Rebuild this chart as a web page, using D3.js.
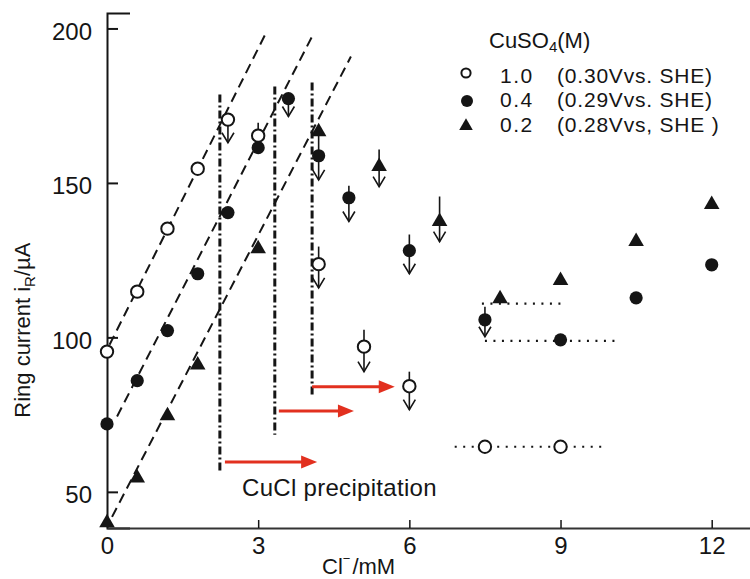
<!DOCTYPE html>
<html>
<head>
<meta charset="utf-8">
<script src="https://cdn.jsdelivr.net/npm/d3@7"></script>
<style>
  html, body { margin: 0; padding: 0; background: #fff; }
  svg { display: block; }
</style>
</head>
<body>
<svg id="chart" width="750" height="579"></svg>
<script>
// Ring current vs chloride concentration for three CuSO4 concentrations
const concLabels = ["1.0", "0.4", "0.2"];
const potentialLabels = ["(0.30Vvs. SHE)", "(0.29Vvs. SHE)", "(0.28Vvs, SHE )"];
const xTicks = [0, 3, 6, 9, 12];
const yTicks = [50, 100, 150, 200];

// 1.0 M CuSO4 (open circles)
const cl10 = [0, 0.6, 1.2, 1.8, 2.4, 3.0, 4.2, 5.1, 6.0, 7.5, 9.0];
const ir10 = [95.4, 114.8, 135.2, 154.6, 170.5, 165.3, 123.7, 97.0, 84.2, 64.6, 64.6];
// 0.4 M CuSO4 (filled circles)
const cl04 = [0, 0.6, 1.2, 1.8, 2.4, 3.0, 3.6, 4.2, 4.8, 6.0, 7.5, 9.0, 10.5, 12];
const ir04 = [72.0, 86.0, 102.2, 120.6, 140.4, 161.4, 177.3, 158.8, 145.2, 128.1, 105.7, 99.2, 112.8, 123.5];
// 0.2 M CuSO4 (triangles)
const cl02 = [0, 0.6, 1.2, 1.8, 3.0, 4.2, 5.4, 6.6, 7.8, 9.0, 10.5, 12];
const ir02 = [40.0, 54.5, 74.6, 91.1, 128.7, 166.6, 155.3, 137.5, 112.5, 118.4, 131.0, 143.0];

// Linear fits for the low-chloride region (start and end of each dashed line)
const fitClStart = [0.05, 0.2, 0.1];
const fitIrStart = [97.6, 74.4, 41.9];
const fitClEnd = [3.16, 4.11, 4.84];
const fitIrEnd = [198.7, 198.7, 190.9];

// Current drift during measurement: vertical bar from top value to end value
const driftCl = [2.4, 3.0, 3.6, 4.2, 4.8, 5.4, 6.0, 6.6, 4.2, 5.1, 6.0, 7.5];
const driftTop = [170.5, 169.5, 177.3, 166.6, 149.1, 160.8, 133.3, 145.6, 129.4, 102.5, 88.9, 109.9];
const driftEnd = [163.0, 165.3, 171.5, 151.0, 137.5, 148.8, 120.6, 131.0, 116.0, 88.9, 76.6, 100.2];
const driftDown = [true, false, true, true, true, true, true, true, true, true, true, true];

// Onset of CuCl precipitation (dash-dot verticals) and shift arrows
const onsetCl = [2.24, 3.33, 4.07];
const onsetTop = [178.6, 181.2, 182.5];
const onsetBottom = [56.5, 68.5, 81.4];
const shiftFrom = [2.34, 3.41, 4.07];
const shiftTo = [4.17, 4.90, 5.71];
const shiftIr = [59.7, 76.2, 84.0];

// Plateau levels (dotted horizontals)
const plateauIr = [110.9, 98.9, 64.6];
const plateauFrom = [7.44, 7.50, 6.90];
const plateauTo = [9.11, 10.08, 9.84];

const svg = d3.select("#chart");
const ink = "#151515";
const red = "#e2301f";
const sans = "'Liberation Sans', Arial, Helvetica, sans-serif";

const x = d3.scaleLinear().domain([0, 12.76]).range([107, 750]);
const y = d3.scaleLinear().domain([38.3, 205]).range([528, 13]);

// Axes
const yAxis = d3.axisLeft(y).tickValues(yTicks).tickSizeInner(-11).tickSizeOuter(-23).tickPadding(15);
const gy = svg.append("g").attr("transform", `translate(${x(0)},0)`).call(yAxis);
gy.select(".domain").attr("stroke", ink).attr("stroke-width", 2);
gy.selectAll(".tick line").attr("stroke", ink).attr("stroke-width", 2);
gy.selectAll(".tick text").attr("font-family", sans).attr("font-size", 24).attr("fill", ink).attr("dy", "0.45em");

const xAxis = d3.axisBottom(x).tickValues(xTicks).tickSizeInner(-8).tickSizeOuter(0).tickPadding(9);
const gx = svg.append("g").attr("transform", `translate(0,${y.range()[0]})`).call(xAxis);
gx.select(".domain").attr("stroke", "#333").attr("stroke-width", 2);
gx.selectAll(".tick line").attr("stroke", ink).attr("stroke-width", 1.5);
gx.selectAll(".tick text").attr("font-family", sans).attr("font-size", 24).attr("fill", ink);

// Axis titles
const yTitle = svg.append("text")
  .attr("transform", `translate(30,${(y(200) + y(50)) / 2 + 70}) rotate(-90)`)
  .attr("text-anchor", "middle").attr("font-family", sans).attr("font-size", 22).attr("fill", ink);
yTitle.append("tspan").text("Ring current  i");
yTitle.append("tspan").text("R").attr("font-size", 15).attr("dy", 5);
yTitle.append("tspan").text("/µA").attr("dy", -5);

const xTitle = svg.append("text")
  .attr("x", 322).attr("y", 574)
  .attr("font-family", sans).attr("font-size", 22).attr("fill", ink);
xTitle.append("tspan").text("Cl");
xTitle.append("tspan").text("−").attr("font-size", 13).attr("dy", -11);
xTitle.append("tspan").text("/mM").attr("dx", 2).attr("dy", 11);

// Dashed linear fits
const fits = svg.append("g");
fitClStart.forEach((c, i) => {
  fits.append("line")
    .attr("x1", x(c)).attr("y1", y(fitIrStart[i]))
    .attr("x2", x(fitClEnd[i])).attr("y2", y(fitIrEnd[i]))
    .attr("stroke", ink).attr("stroke-width", 2).attr("stroke-dasharray", "10,6");
});

// Dash-dot onset lines
onsetCl.forEach((c, i) => {
  svg.append("line")
    .attr("x1", x(c)).attr("x2", x(c))
    .attr("y1", y(onsetTop[i])).attr("y2", y(onsetBottom[i]))
    .attr("stroke", ink).attr("stroke-width", 3).attr("stroke-dasharray", "8,3,2,3");
});

// Red shift arrows
shiftFrom.forEach((c, i) => {
  const x0 = x(c), x1 = x(shiftTo[i]), yy = y(shiftIr[i]);
  const head = 16, half = 6.5;
  svg.append("line").attr("x1", x0).attr("x2", x1 - head + 1).attr("y1", yy).attr("y2", yy)
    .attr("stroke", red).attr("stroke-width", 3);
  svg.append("path")
    .attr("d", `M${x1},${yy}L${x1 - head},${yy - half}L${x1 - head},${yy + half}Z`)
    .attr("fill", red);
});

svg.append("text").attr("x", 242).attr("y", 496)
  .attr("font-family", sans).attr("font-size", 24).attr("letter-spacing", 0.3).attr("fill", ink)
  .text("CuCl precipitation");

// Dotted plateau lines
plateauIr.forEach((v, i) => {
  svg.append("line")
    .attr("x1", x(plateauFrom[i])).attr("x2", x(plateauTo[i]))
    .attr("y1", y(v)).attr("y2", y(v))
    .attr("stroke", ink).attr("stroke-width", 2.2).attr("stroke-dasharray", "2,6.5");
});

// Drift bars with downward arrowheads
driftCl.forEach((c, i) => {
  const xx = x(c), y0 = y(driftTop[i]), y1 = y(driftEnd[i]);
  svg.append("line").attr("x1", xx).attr("x2", xx).attr("y1", y0).attr("y2", y1)
    .attr("stroke", ink).attr("stroke-width", 1.6);
  if (driftDown[i]) {
    svg.append("path")
      .attr("d", `M${xx - 6},${y1 - 10}L${xx},${y1}L${xx + 6},${y1 - 10}`)
      .attr("fill", "none").attr("stroke", ink).attr("stroke-width", 1.6);
  }
});

// Data markers
const tri = d3.symbol().type(d3.symbolTriangle).size(105);
function openCircle(g, cx, cy, r) {
  g.append("circle").attr("cx", cx).attr("cy", cy).attr("r", r)
    .attr("fill", "#fff").attr("stroke", ink).attr("stroke-width", 2);
}
function filledCircle(g, cx, cy, r) {
  g.append("circle").attr("cx", cx).attr("cy", cy).attr("r", r).attr("fill", ink);
}
function triangle(g, cx, cy, sym) {
  g.append("path").attr("d", sym()).attr("transform", `translate(${cx},${cy})`).attr("fill", ink);
}

const marks = svg.append("g");
cl02.forEach((c, i) => triangle(marks, x(c), y(ir02[i]), tri));
cl04.forEach((c, i) => filledCircle(marks, x(c), y(ir04[i]), 6.6));
cl10.forEach((c, i) => openCircle(marks, x(c), y(ir10[i]), 6.2));

// Legend
const legend = svg.append("g");
const head = legend.append("text").attr("x", 489).attr("y", 48)
  .attr("font-family", sans).attr("font-size", 22).attr("fill", ink);
head.append("tspan").text("CuSO");
head.append("tspan").text("4").attr("font-size", 15).attr("dy", 4);
head.append("tspan").text("(M)").attr("dy", -4);

const rowY = [73, 101, 126];
const baseY = [83, 107, 132];
openCircle(legend, 466, rowY[0], 4.6);
filledCircle(legend, 467, rowY[1], 6);
triangle(legend, 466, rowY[2], d3.symbol().type(d3.symbolTriangle).size(80));
concLabels.forEach((t, i) => {
  legend.append("text").attr("x", 500).attr("y", baseY[i])
    .attr("font-family", sans).attr("font-size", 21).attr("letter-spacing", 1.5).attr("fill", ink).text(t);
  legend.append("text").attr("x", 557).attr("y", baseY[i])
    .attr("font-family", sans).attr("font-size", 21).attr("letter-spacing", 0.8).attr("fill", ink).text(potentialLabels[i]);
});
</script>
</body>
</html>
